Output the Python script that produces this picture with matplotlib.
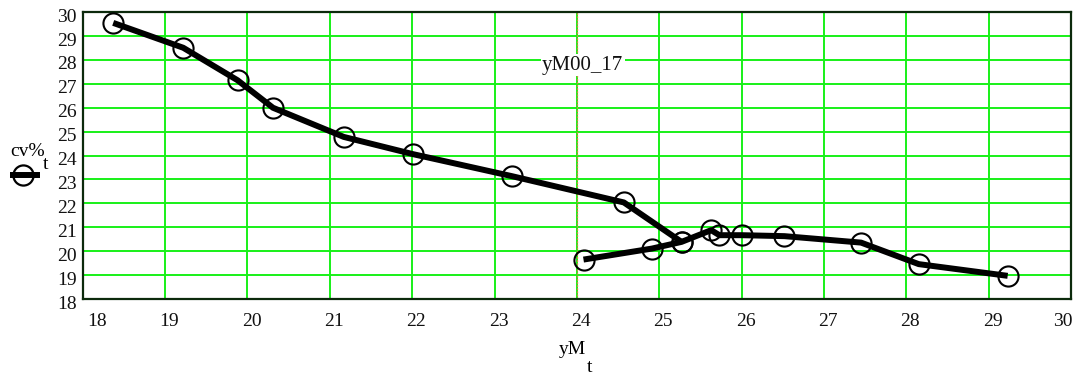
import matplotlib
matplotlib.use("Agg")
import matplotlib.pyplot as plt
from matplotlib.lines import Line2D
from matplotlib.transforms import ScaledTranslation

plt.rcParams['font.family'] = ['Liberation Serif', 'DejaVu Serif']

# upper branch (falling) and lower branch of cv% against yM
ym_upper = [18.37, 19.22, 19.88, 20.31, 21.17, 22.01, 23.21, 24.57, 25.27]
cv_upper = [29.55, 28.51, 27.15, 26.00, 24.78, 24.06, 23.14, 22.04, 20.39]
ym_lower = [24.08, 24.91, 25.27, 25.63, 25.73, 26.00, 26.52, 27.45, 28.15, 29.23]
cv_lower = [19.65, 20.11, 20.39, 20.88, 20.67, 20.67, 20.63, 20.36, 19.46, 18.97]

x_ticks = list(range(18, 31))
y_ticks = list(range(18, 31))
marker_x = 24.0
marker_label = "yM00_17"

DPI = 100
FS = 14
fig = plt.figure(figsize=(10.83, 3.79), dpi=DPI)
ax = fig.add_axes([0.0764, 0.211, 0.9126, 0.757])

ax.set_xlim(18, 30)
ax.set_ylim(18, 30)
ax.set_xticks(x_ticks)
ax.set_yticks(y_ticks)
ax.set_xticklabels([str(v) for v in x_ticks])
ax.set_yticklabels([str(v) for v in y_ticks])
ax.tick_params(length=0, labelsize=FS, colors='#111111')
ax.tick_params(axis='x', pad=10)
ax.tick_params(axis='y', pad=4.5)

ax.grid(True, color='#18f018', lw=1.4)
ax.set_axisbelow(True)
for sp in ax.spines.values():
    sp.set_color('#0c2a0c')
    sp.set_linewidth(1.6)

# vertical marker
ax.axvline(marker_x, color='#d08a3a', lw=0.9, ls=(0, (1.5, 1)), zorder=1.5)
ax.text(marker_x + 0.07, 27.78, marker_label, ha='center', va='center', fontsize=15,
        color='#111111', bbox=dict(facecolor='white', edgecolor='none', pad=1.0), zorder=2)

line_kw = dict(color='black', lw=4.3, marker='o', markersize=14.5,
               markerfacecolor='none', markeredgecolor='black', markeredgewidth=1.5,
               solid_capstyle='butt', zorder=3)
ax.plot(ym_upper, cv_upper, **line_kw)
ax.plot(ym_lower, cv_lower, **line_kw)

# nudge tick labels like the original layout
xlabels = ax.get_xticklabels()
for i, lbl in enumerate(xlabels):
    dx = 4
    if i == 0:
        dx = 14
    elif i == len(xlabels) - 1:
        dx = -8
    lbl.set_transform(lbl.get_transform() + ScaledTranslation(dx / DPI, 0, fig.dpi_scale_trans))
for lbl in ax.get_yticklabels():
    lbl.set_transform(lbl.get_transform() + ScaledTranslation(0, -3 / DPI, fig.dpi_scale_trans))

# axis names with subscripts
W, H = 1083.0, 379.0
fig.text(10 / W, 1 - 156 / H, "cv%", fontsize=FS, va='baseline', ha='left')
fig.text(43 / W, 1 - 169 / H, "t", fontsize=FS, va='baseline', ha='left')
fig.text(559 / W, 1 - 354 / H, "yM", fontsize=FS, va='baseline', ha='left')
fig.text(587 / W, 1 - 372 / H, "t", fontsize=FS, va='baseline', ha='left')

# legend symbol under the y name
fig.add_artist(Line2D([10 / W, 40 / W], [1 - 175 / H] * 2, transform=fig.transFigure,
                      color='black', lw=4.3, solid_capstyle='butt'))
fig.add_artist(Line2D([23 / W], [1 - 175 / H], transform=fig.transFigure, marker='o',
                      markersize=14.5, markerfacecolor='none', markeredgecolor='black',
                      markeredgewidth=1.6))

fig.savefig("out.png", dpi=DPI)
